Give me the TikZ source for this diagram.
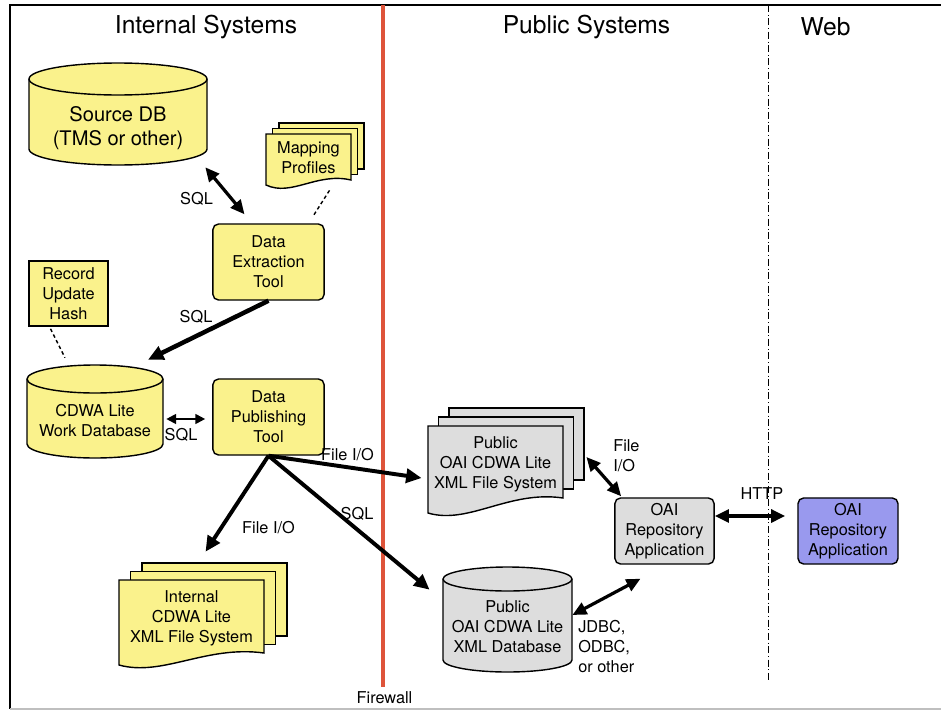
\documentclass[tikz,border=0pt]{standalone}
\usepackage{fontspec}
\setmainfont{TeX Gyre Heros}
\usetikzlibrary{arrows.meta,calc}

\definecolor{toolyellow}{RGB}{250,242,140}
\definecolor{pubgray}{RGB}{221,221,221}
\definecolor{webblue}{RGB}{153,153,238}
\definecolor{firered}{RGB}{222,84,58}

% database drum: centre x, top y, bottom y, x radius, y radius, fill
\newcommand{\dbcyl}[6]{%
  \filldraw[fill=#6, line width=1pt] ({#1-#4},#2) -- ({#1-#4},#3) arc (180:0:#4 and #5)
    -- ({#1+#4},#2) arc (0:-180:#4 and #5) -- cycle;
  \draw[line width=1pt] ({#1-#4},#2) arc (180:0:#4 and #5);}

% stack of three sheets: front corners, offset, rise of the wavy edge, fill
\newcommand{\docstack}[8]{%
  \filldraw[fill=#8, line width=1pt] ({#1+2*#5},{#2-2*#6}) rectangle ({#3+2*#5},{#4-#7-2*#6});
  \filldraw[fill=#8, line width=1pt] ({#1+#5},{#2-#6}) rectangle ({#3+#5},{#4-#7-#6});
  \filldraw[fill=#8, line width=1pt] (#1,#2) -- (#3,#2) -- (#3,{#4-#7})
    .. controls ({#1+0.6*(#3-#1)},{#4-#7-8}) and ({#1+0.3*(#3-#1)},{#4+12}) .. (#1,#4) -- cycle;}

\begin{document}
\begin{tikzpicture}[x=0.025cm, y=-0.025cm,
    every node/.style={font=\fontsize{11.6}{14.2}\selectfont},
    tool/.style={draw, fill=toolyellow, rounded corners=4pt, line width=1pt, align=center,
      inner sep=0pt, minimum width=2.78cm, minimum height=1.9cm},
    oaibox/.style={tool, minimum width=2.48cm, minimum height=1.65cm},
    txt/.style={align=center, inner sep=0pt},
    lbl/.style={inner sep=0pt},
    title/.style={font=\fontsize{17.5}{21}\selectfont},
    bigarrow/.style={line width=2.8pt, -{Triangle[length=11pt,width=10pt]}},
    both/.style={line width=2.3pt, {Triangle[length=10pt,width=9pt]}-{Triangle[length=10pt,width=9pt]}},
    link/.style={dash pattern=on 2.5pt off 2pt, line width=1pt}]
    \useasboundingbox (0,0) rectangle (941,711);

    % Frame and dividers
    \draw[line width=1pt] (941,5) -- (10,5) -- (10,709);
    \draw[gray!50, line width=1pt] (10,709) -- (941,709);
    \draw[firered, line width=2.4pt] (383,5) -- (383,687);
    \draw[dash pattern=on 5pt off 2pt on 0.5pt off 2pt, line width=0.5pt] (768,5) -- (768,680);

    \node[title] (tint) at (206,27) {Internal Systems};
    \node[title] (tpub) at (586.5,27) {Public Systems};
    \node[title] (tweb) at (825.5,27) {Web};
    \node[lbl] (fw) at (384.5,698) {Firewall};

    % Drums and sheet stacks
    \dbcyl{118}{79}{149}{89}{16}{toolyellow}
    \dbcyl{95}{379}{444}{68}{14}{toolyellow}
    \dbcyl{507.5}{579}{660}{64.5}{12}{pubgray}
    \docstack{266}{134}{351}{185}{6.5}{5.5}{5}{toolyellow}
    \docstack{119}{580}{264}{665}{11.5}{8.5}{12}{toolyellow}
    \docstack{428}{426}{563}{513}{10.5}{9}{15}{pubgray}

    % Internal side
    \node[txt, font=\fontsize{14.3}{17}\selectfont, minimum width=4.45cm, minimum height=1.95cm]
      (srcdb) at (118,128) {Source DB\\(TMS or other)};
    \node[txt, minimum width=2.13cm, minimum height=1.18cm] (map) at (308.5,157.5) {Mapping\\Profiles};
    \node[tool] (ext) at (268.5,262) {Data\\Extraction\\Tool};
    \node[tool, rounded corners=0pt, minimum width=1.98cm, minimum height=1.63cm]
      (hash) at (68.5,293.5) {Record\\Update\\Hash};
    \node[txt, minimum width=3.4cm, minimum height=2.8cm] (wdb) at (95,421) {CDWA Lite\\Work Database};
    \node[tool] (pub) at (268.5,417) {Data\\Publishing\\Tool};
    \node[txt, minimum width=3.63cm, minimum height=1.9cm] (ifs) at (191.5,618) {Internal\\CDWA Lite\\XML File System};

    % Public side and web
    \node[txt, minimum width=3.38cm, minimum height=1.9cm] (pfs) at (495.5,464) {Public\\OAI CDWA Lite\\XML File System};
    \node[txt, minimum width=3.23cm, minimum height=3cm] (pdb) at (507.5,627) {Public\\OAI CDWA Lite\\XML Database};
    \node[oaibox, fill=pubgray] (oai) at (664.5,531) {OAI\\Repository\\Application};
    \node[oaibox, fill=webblue, minimum width=2.5cm] (web) at (848,531) {OAI\\Repository\\Application};

    % Connectors
    \draw[both] ($(srcdb.south east)+(-2,0)$) -- ($(ext.north)+(-24,-9)$);
    \draw[link] ($(map.south)+(21,9)$) -- ($(ext.north)+(44.5,-7)$);
    \draw[bigarrow, line width=3.2pt] (ext.south) -- ($(wdb.north)+(53,-5)$);
    \draw[link] ($(hash.south)+(-18,2)$) -- ($(wdb.north)+(-30,-7)$);
    \draw[line width=1.4pt, {Triangle[length=7pt,width=7pt]}-{Triangle[length=7pt,width=7pt]}]
      ($(wdb.east)+(3,-2)$) -- ($(pub.west)+(-7,2)$);
    \draw[bigarrow] (pub.south) -- ($(pfs.west)+(-6,14)$);
    \draw[bigarrow] (pub.south) -- ($(pdb.north west)+(-13,23)$);
    \draw[bigarrow] (pub.south) -- ($(ifs.north)+(14,-28)$);
    \draw[both] ($(pfs.east)+(23,-7)$) -- ($(oai.north west)+(7,-1)$);
    \draw[both, line width=3.2pt] ($(oai.east)+(0,-15)$) -- ($(web.west)+(-12,-15)$);
    \draw[both] ($(pdb.east)+(0,-12)$) -- ($(oai.south)+(-24,14)$);

    % Connector labels
    \node[lbl] (lsqla) at (196.5,199) {SQL};
    \node[lbl] (lsqlb) at (196,317) {SQL};
    \node[lbl] (lsqlc) at (181,435) {SQL};
    \node[lbl] (lfioa) at (347.5,455) {File I/O};
    \node[lbl] (lsqld) at (357,514) {SQL};
    \node[lbl] (lfiob) at (268.5,528) {File I/O};
    \node[lbl, align=left, anchor=west] (lfioc) at (613,456) {File\\I/O};
    \node[lbl] (lhttp) at (762,494) {HTTP};
    \node[lbl, align=left, anchor=west] (ljdbc) at (578,646.5) {JDBC,\\ODBC,\\or other};
\end{tikzpicture}
\end{document}
